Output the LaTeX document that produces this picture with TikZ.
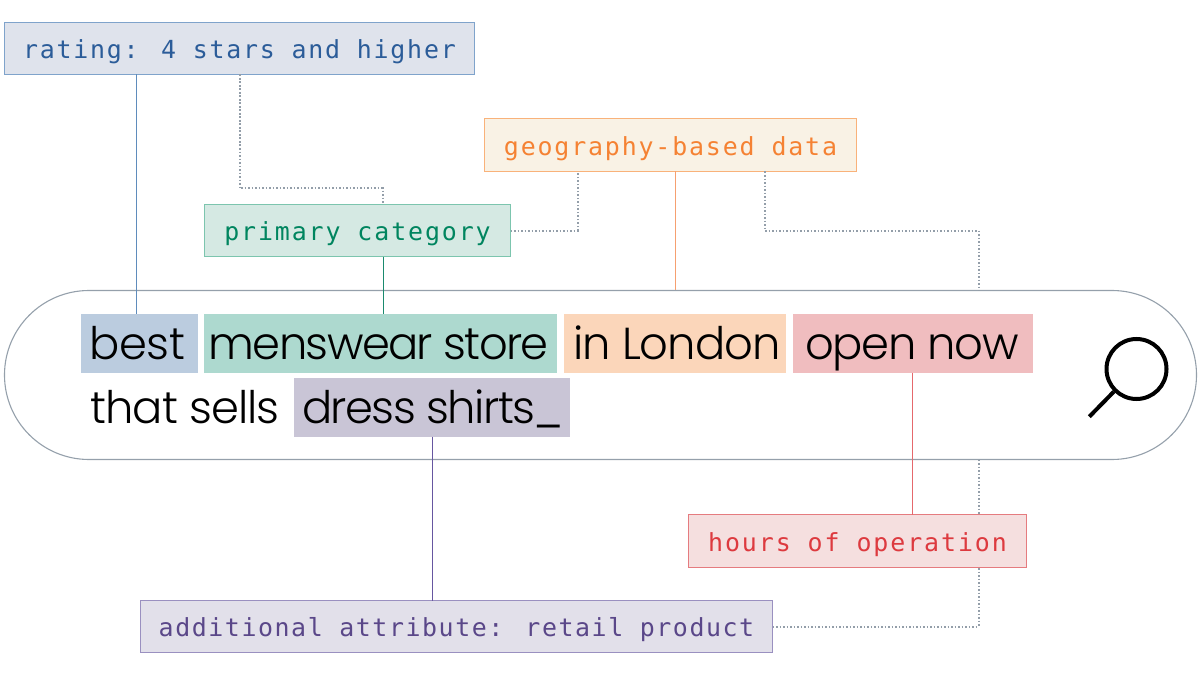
\documentclass[tikz,border=0pt]{standalone}
\usepackage{fontspec}
\newfontfamily\monof{DejaVu Sans Mono}
\newfontfamily\bigf{Poppins Light}
\newcommand{\tightby}[2]{{\addfontfeature{LetterSpace=#1}#2}}
\definecolor{cBlueF}{HTML}{DFE3EC}\definecolor{cBlueD}{HTML}{7FA3CB}\definecolor{cBlueT}{HTML}{2B5C99}\definecolor{cBlueL}{HTML}{5F8CBC}\definecolor{cBlueH}{HTML}{BBCCDF}
\definecolor{cGreenF}{HTML}{D5E9E3}\definecolor{cGreenD}{HTML}{7CC5AE}\definecolor{cGreenT}{HTML}{00855F}\definecolor{cGreenL}{HTML}{1A8A6E}\definecolor{cGreenH}{HTML}{ADD9CF}
\definecolor{cOrF}{HTML}{F9F2E5}\definecolor{cOrD}{HTML}{F9B27A}\definecolor{cOrT}{HTML}{F58233}\definecolor{cOrL}{HTML}{F6A070}\definecolor{cOrH}{HTML}{FBD6BA}
\definecolor{cRedF}{HTML}{F5DFDF}\definecolor{cRedD}{HTML}{E57B7F}\definecolor{cRedT}{HTML}{DD3A3F}\definecolor{cRedL}{HTML}{E5686C}\definecolor{cRedH}{HTML}{F0BDBF}
\definecolor{cPuF}{HTML}{E2E0EA}\definecolor{cPuD}{HTML}{9A90C0}\definecolor{cPuT}{HTML}{5A4789}\definecolor{cPuL}{HTML}{6656A0}\definecolor{cPuH}{HTML}{C9C5D6}
\definecolor{cGray}{HTML}{939EA9}\definecolor{cPill}{HTML}{95A0AB}
\tikzset{
 tag/.style n args={4}{draw=#1,fill=#2,text=#3,line width=1bp,inner sep=0pt,outer sep=0pt,minimum height=52bp,minimum width=#4,
   font=\monof\fontsize{25}{30}\selectfont,text height=20.5pt,text depth=0pt},
 hl/.style n args={2}{fill=#1,inner sep=0pt,outer sep=0pt,minimum height=58.5bp,minimum width=#2,text=black,
   font=\bigf\fontsize{45}{55}\selectfont,text height=40pt,text depth=6.5pt},
 plain/.style={inner sep=0pt,text=black,font=\bigf\fontsize{45}{55}\selectfont,text height=40pt,text depth=6.5pt},
 dot/.style={cGray,line width=2bp,dash pattern=on 1.7bp off 1.8bp},
 link/.style={line width=1.4bp},
 pill/.style={draw=cPill,line width=1.1bp,rounded corners=84.5bp,fill=white,outer sep=0pt,minimum width=1192bp,minimum height=169bp,inner sep=0pt},
}
\begin{document}
\begin{tikzpicture}[x=1bp,y=-1bp]
\useasboundingbox (0,0) rectangle (1200,675);
\coordinate (xa) at (136.7,0);\coordinate (xb) at (239.5,0);\coordinate (xc) at (382.5,0);
\coordinate (xd) at (383.7,0);\coordinate (xe) at (577.5,0);\coordinate (xf) at (675.2,0);
\coordinate (xg) at (764.5,0);\coordinate (xh) at (978.5,0);\coordinate (xi) at (912.2,0);\coordinate (xj) at (432.2,0);
\coordinate (y1) at (0,188.5);\coordinate (y2) at (0,230.5);\coordinate (y3) at (0,626.5);
\node[pill] (bar) at (600.5,375) {};
\node[hl={cBlueH}{117bp}] (best) at (139.5,343.25) {\tightby{-1.3}{best}\kern4bp};
\node[hl={cGreenH}{352.5bp}] (mens) at (380.75,343.25) {\tightby{-3.7}{menswear store}\kern4bp};
\node[hl={cOrH}{221.5bp}] (lon) at (674.75,343.25) {\kern4bp\tightby{-2.3}{in London}};
\node[hl={cRedH}{239.5bp}] (open) at (912.75,343.25) {\tightby{-2.9}{open now}\kern2bp};
\node[hl={cPuH}{276bp}] (dress) at (432,407.25) {\kern2bp\tightby{-3.5}{dress shirts\_}};
\node[plain,anchor=west] (sells) at (90,407.25) {\tightby{-2.1}{that sells}};
\draw[dot] (xh |- bar.south) -- (xh |- y3);
\node[tag={cBlueD}{cBlueF}{cBlueT}{470bp}] (rating) at (239.5,48.5) {\tightby{7.1}{rating: 4 stars and higher}};
\node[tag={cGreenD}{cGreenF}{cGreenT}{306bp}] (prim) at (357.5,230.5) {\tightby{7.6}{primary category}};
\node[tag={cOrD}{cOrF}{cOrT}{372bp},minimum height=53bp] (geo) at (670.5,145) {\tightby{7.4}{geography-based data}};
\node[tag={cRedD}{cRedF}{cRedT}{338bp},minimum height=53bp] (hours) at (857.5,541) {\tightby{7.7}{hours of operation}};
\node[tag={cPuD}{cPuF}{cPuT}{632bp}] (attr) at (456.5,626.5) {\tightby{6.3}{additional attribute: retail product}};
\draw[link,cBlueL] (xa |- rating.south) -- (xa |- best.north);
\draw[link,cGreenL] (xd |- prim.south) -- (xd |- mens.north);
\draw[link,cOrL] (xf |- geo.south) -- (xf |- bar.north);
\draw[link,cRedL] (xi |- open.south) -- (xi |- hours.north);
\draw[link,cPuL] (xj |- dress.south) -- (xj |- attr.north);
\draw[dot] (xb |- rating.south) -- (xb |- y1) -- (xc |- y1) -- (xc |- prim.north);
\draw[dot] (prim.east) -- (xe |- prim.east) -- (xe |- geo.south);
\draw[dot] (xg |- geo.south) -- (xg |- y2) -- (xh |- y2) -- (xh |- bar.north);
\draw[dot] (attr.east) -- (xh |- y3);
\node[draw=black,circle,line width=4bp,minimum size=60bp,inner sep=0pt] (lens) at (1136.5,369) {};
\coordinate (tip) at (1089.3,416.7);
\draw[line width=4bp] (lens.225) -- (tip);
\end{tikzpicture}
\end{document}
